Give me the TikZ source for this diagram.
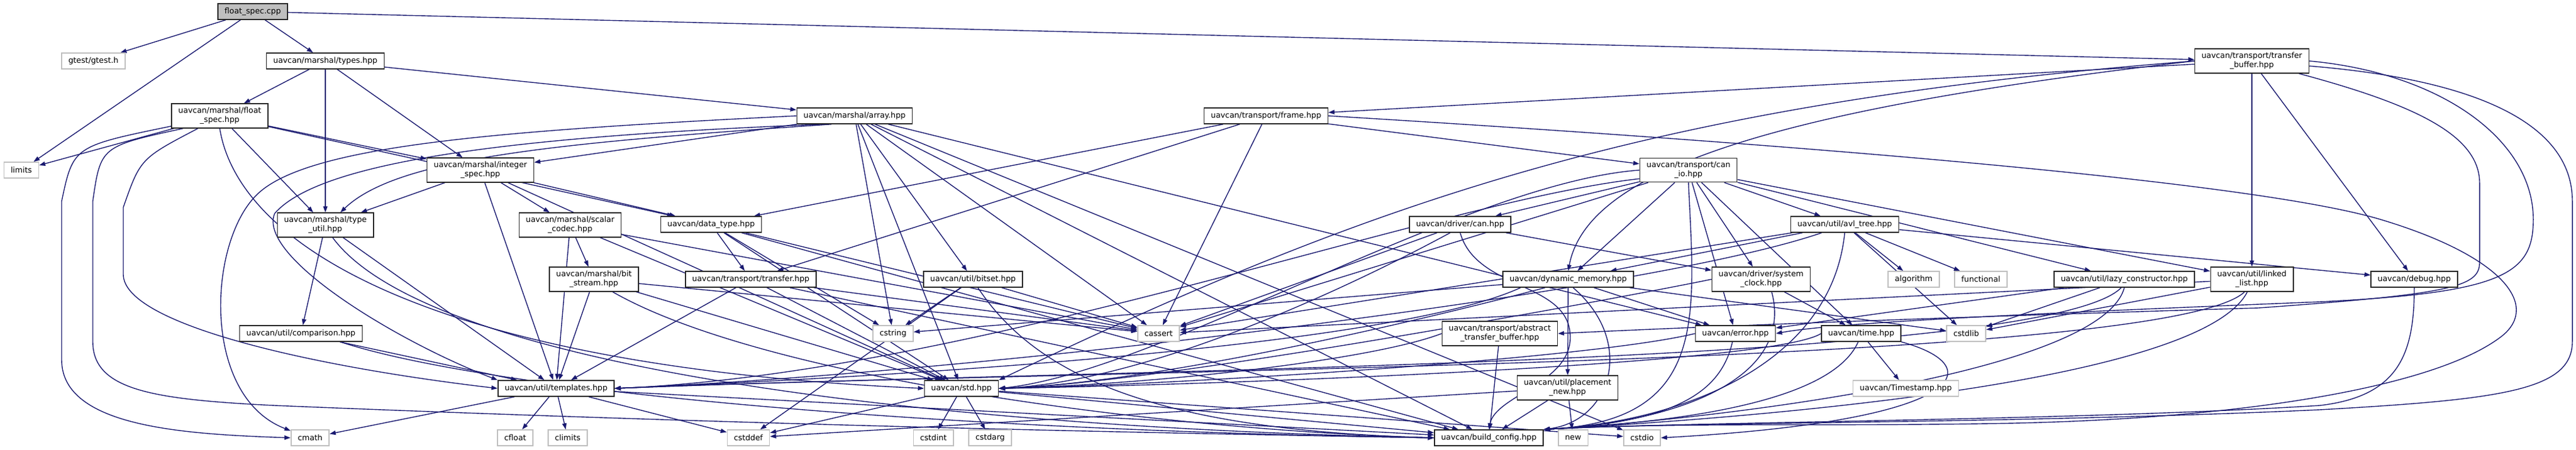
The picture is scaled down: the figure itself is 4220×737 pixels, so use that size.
\documentclass[tikz,border=0pt]{standalone}
\usepackage{fontspec}
\setmainfont{DejaVu Sans}
\usetikzlibrary{arrows.meta,backgrounds,calc}

\definecolor{edgeblue}{HTML}{191970}
\definecolor{sysgray}{HTML}{BFBFBF}

\tikzset{
  hdr/.style={draw=black!85, line width=1.5pt, fill=white, inner xsep=11pt,
    inner ysep=6pt, minimum height=26pt, align=center,
    font=\fontsize{12.8}{15}\selectfont},
  sysh/.style={hdr, draw=sysgray},
  rootf/.style={hdr, fill=sysgray},
  dep/.style={edgeblue, line width=1.4pt, -{Triangle[length=10pt,width=7pt]}},
}

\begin{document}
\begin{tikzpicture}[x=1pt,y=-1pt]
\useasboundingbox (0,0) rectangle (4220,737);

% headers, rank by rank
\node[rootf] (cpp) at (414,19) {float\_spec.cpp};
\node[sysh] (gtest) at (153,100) {gtest/gtest.h};
\node[hdr] (types) at (533,100) {uavcan/marshal/types.hpp};
\node[hdr] (tbuf) at (3689,100) {uavcan/transport/transfer\\\_buffer.hpp};

\node[hdr] (fspec) at (360,190) {uavcan/marshal/float\\\_spec.hpp};
\node[hdr] (array) at (1400,190) {uavcan/marshal/array.hpp};
\node[hdr] (frame) at (2074,190) {uavcan/transport/frame.hpp};

\node[sysh] (limits) at (35,279) {limits};
\node[hdr] (ispec) at (787,279) {uavcan/marshal/integer\\\_spec.hpp};
\node[hdr] (canio) at (2766,279) {uavcan/transport/can\\\_io.hpp};

\node[hdr] (tutil) at (533,369) {uavcan/marshal/type\\\_util.hpp};
\node[hdr] (scodec) at (934,369) {uavcan/marshal/scalar\\\_codec.hpp};
\node[hdr] (dtype) at (1165,368) {uavcan/data\_type.hpp};
\node[hdr] (drvcan) at (2392,368) {uavcan/driver/can.hpp};
\node[hdr] (avl) at (3022,368) {uavcan/util/avl\_tree.hpp};

\node[hdr] (bstream) at (973,458) {uavcan/marshal/bit\\\_stream.hpp};
\node[hdr] (transfer) at (1230,458) {uavcan/transport/transfer.hpp};
\node[hdr] (bitset) at (1594,458) {uavcan/util/bitset.hpp};
\node[hdr] (dynmem) at (2569,458) {uavcan/dynamic\_memory.hpp};
\node[hdr] (sysclk) at (2885,458) {uavcan/driver/system\\\_clock.hpp};
\node[sysh] (algorithm) at (3135,458) {algorithm};
\node[sysh] (functional) at (3245,458) {functional};
\node[hdr] (lazy) at (3480,458) {uavcan/util/lazy\_constructor.hpp};
\node[hdr] (llist) at (3689,458) {uavcan/util/linked\\\_list.hpp};
\node[hdr] (debug) at (3955,458) {uavcan/debug.hpp};

\node[hdr] (comparison) at (493,547) {uavcan/util/comparison.hpp};
\node[sysh] (cstring) at (1463,547) {cstring};
\node[sysh] (cassert) at (1898,547) {cassert};
\node[hdr] (atbuf) at (2457,547) {uavcan/transport/abstract\\\_transfer\_buffer.hpp};
\node[hdr] (error) at (2843,547) {uavcan/error.hpp};
\node[hdr] (time) at (3049,547) {uavcan/time.hpp};
\node[sysh] (cstdlib) at (3221,547) {cstdlib};

\node[hdr] (templates) at (911,637) {uavcan/util/templates.hpp};
\node[hdr] (std) at (1575,637) {uavcan/std.hpp};
\node[hdr] (pnew) at (2568,636) {uavcan/util/placement\\\_new.hpp};
\node[sysh] (timestamp) at (3122,637) {uavcan/Timestamp.hpp};

\node[sysh] (cmath) at (508,718) {cmath};
\node[sysh] (cfloat) at (844,718) {cfloat};
\node[sysh] (climits) at (930,718) {climits};
\node[sysh] (cstddef) at (1226,718) {cstddef};
\node[sysh] (cstdint) at (1529,718) {cstdint};
\node[sysh] (cstdarg) at (1622,718) {cstdarg};
\node[hdr] (bconfig) at (2439,718) {uavcan/build\_config.hpp};
\node[sysh] (new) at (2577,718) {new};
\node[sysh] (cstdio) at (2690,718) {cstdio};

\begin{scope}[on background layer]
\fill[white] (0,0) rectangle (4220,737);

% float_spec.cpp and types.hpp
\foreach \dst in {gtest,limits,types,tbuf} \draw[dep] (cpp) -- (\dst);
\foreach \dst in {fspec,tutil,ispec,array} \draw[dep] (types) -- (\dst);

% float_spec.hpp
\foreach \dst in {limits,tutil,ispec,dtype} \draw[dep] (fspec) -- (\dst);
\draw[dep] (fspec.192) .. controls (120,240) .. (101,330) -- (101,590)
  .. controls (101,700) and (300,712) .. (cmath.west);
\draw[dep] (fspec.210) .. controls (230,260) .. (202,340) -- (202,450)
  .. controls (202,530) and (500,600) .. (templates.west);
\draw[dep] (fspec.199) .. controls (165,240) .. (152,330) -- (152,560)
  .. controls (152,640) and (250,655) .. (450,665)
  .. controls (1300,700) and (2000,712) .. (bconfig.west);
\draw[dep] (fspec.south) .. controls (390,400) and (700,600) .. (std.west);

% marshal
\draw[dep] (tutil) -- (comparison);
\draw[dep] (tutil) -- (templates);
\draw[dep] (tutil.300) .. controls (700,600) and (1500,700) .. (bconfig.west);
\draw[dep] (comparison) -- (templates);
\draw[dep] (comparison.348) .. controls (800,640) and (1500,705) .. (bconfig.west);
\foreach \dst in {tutil,scodec,dtype,templates,std} \draw[dep] (ispec) -- (\dst);
\foreach \dst in {bstream,templates,std,cassert} \draw[dep] (scodec) -- (\dst);
\foreach \dst in {templates,cassert,std} \draw[dep] (bstream) -- (\dst);
\draw[dep] (bstream.326) .. controls (1250,620) and (1900,705) .. (bconfig.west);
\foreach \dst in {transfer,cstring,cassert,std,bconfig} \draw[dep] (dtype) -- (\dst);
\foreach \dst in {templates,cassert,std,bconfig} \draw[dep] (transfer) -- (\dst);

% array.hpp
\foreach \dst in {cstring,bitset,cassert,error,ispec,std,bconfig,cstdio}
  \draw[dep] (array) -- (\dst);
\draw[dep] (array.west) .. controls (800,215) and (500,240) .. (420,320)
  .. controls (340,400) and (330,650) .. (cmath.160);
\draw[dep] (array.195) .. controls (800,225) and (520,270) .. (450,350)
  .. controls (420,420) and (650,560) .. (templates.north west);
\draw[dep] (array.200) .. controls (900,235) and (650,260) .. (tutil.40);
\foreach \dst in {cstring,cstddef,cassert} \draw[dep] (bitset) -- (\dst);
\draw[dep] (bitset.300) .. controls (1700,620) and (1900,705) .. (bconfig.west);

% transport
\foreach \dst in {dtype,transfer,cassert,canio} \draw[dep] (frame) -- (\dst);
\draw[dep] (frame.east) .. controls (3000,240) and (3700,300) .. (3900,360)
  .. controls (4100,420) and (4160,500) .. (4100,550)
  .. controls (4000,630) and (3700,685) .. (3300,694)
  .. controls (3000,700) and (2750,692) .. (bconfig.north east);
\foreach \dst in {frame,llist,debug} \draw[dep] (tbuf) -- (\dst);
\draw[dep] (tbuf.west) .. controls (2900,180) and (2600,280) .. (dynmem.north);
\draw[dep] (tbuf.west) .. controls (2700,170) and (2250,330) .. (std.north east);
\draw[dep] (tbuf.345) .. controls (3950,170) and (4062,220) .. (4062,300) -- (4062,430)
  .. controls (4062,470) and (4020,482) .. (3700,505)
  .. controls (3200,520) and (2800,535) .. (atbuf.east);
\draw[dep] (tbuf.east) .. controls (4000,120) and (4150,230) .. (4150,360)
  .. controls (4150,450) and (4100,480) .. (3800,495)
  .. controls (3300,515) and (3000,530) .. (error.east);
\draw[dep] (tbuf.355) .. controls (4050,130) and (4214,200) .. (4214,330) -- (4214,560)
  .. controls (4214,640) and (4100,655) .. (3800,672)
  .. controls (3300,695) and (2750,692) .. (bconfig.north east);
\foreach \dst in {drvcan,sysclk,avl,dynmem,error,time,lazy,llist,cassert}
  \draw[dep] (canio) -- (\dst);
\draw[dep] (canio.west) .. controls (2400,300) and (1900,610) .. (std.east);
\draw[dep] (canio.190) .. controls (2350,330) and (1600,612) .. (templates.east);
\draw[dep] (canio.south) .. controls (2776,520) and (2800,690) .. (bconfig.north east);
\draw[dep] (atbuf.west) .. controls (2250,590) and (1900,630) .. (std.east);
\draw[dep] (atbuf) -- (bconfig);

% driver, time, error
\foreach \dst in {cassert,sysclk} \draw[dep] (drvcan) -- (\dst);
\draw[dep] (drvcan.220) .. controls (2250,450) and (1900,625) .. (std.east);
\draw[dep] (drvcan.south) .. controls (2420,480) and (2580,460) .. (2572,560)
  .. controls (2565,630) and (2450,650) .. (bconfig.north);
\draw[dep] (sysclk) -- (time);
\draw[dep] (sysclk.west) .. controls (2700,480) and (1900,630) .. (std.east);
\draw[dep] (sysclk.310) .. controls (2940,620) and (2750,692) .. (bconfig.north east);
\draw[dep] (time) -- (timestamp);
\draw[dep] (time.west) .. controls (2900,600) and (1950,632) .. (std.east);
\draw[dep] (time.250) .. controls (3000,660) and (2750,692) .. (bconfig.north east);
\draw[dep] (time.south east) .. controls (3260,600) and (3230,690) .. (cstdio.east);
\draw[dep] (error.west) .. controls (2600,590) and (1900,632) .. (std.east);
\draw[dep] (error.250) .. controls (2820,640) and (2750,692) .. (bconfig.north east);

% util
\foreach \dst in {cstdlib,cassert,algorithm,functional,debug,dynmem}
  \draw[dep] (avl) -- (\dst);
\draw[dep] (avl.200) .. controls (2700,480) and (1600,612) .. (templates.east);
\draw[dep] (avl.south) .. controls (3000,600) and (2750,692) .. (bconfig.north east);
\foreach \dst in {cstring,error,pnew,cstdlib} \draw[dep] (dynmem) -- (\dst);
\draw[dep] (dynmem.200) .. controls (2350,520) and (1900,628) .. (std.east);
\draw[dep] (dynmem.190) .. controls (2300,560) and (1600,612) .. (templates.east);
\draw[dep] (dynmem.300) .. controls (2680,560) and (2640,690) .. (bconfig.north east);
\foreach \dst in {cstddef,new,bconfig} \draw[dep] (pnew) -- (\dst);
\foreach \dst in {error,cstdlib} \draw[dep] (lazy) -- (\dst);
\draw[dep] (lazy.250) .. controls (3350,600) and (1800,605) .. (templates.east);
\draw[dep] (lazy.south) .. controls (3440,620) and (2750,692) .. (bconfig.north east);
\foreach \dst in {cstdlib,cassert} \draw[dep] (llist) -- (\dst);
\draw[dep] (llist.240) .. controls (3550,600) and (1800,605) .. (templates.east);
\draw[dep] (llist.250) .. controls (3600,640) and (2750,692) .. (bconfig.north east);
\draw[dep] (debug.south) .. controls (3955,580) and (3930,650) .. (3800,665)
  .. controls (3400,690) and (2750,692) .. (bconfig.north east);

% std.hpp and templates.hpp
\foreach \dst in {cstdint,cstdarg,cstddef,cstdio,bconfig} \draw[dep] (std) -- (\dst);
\foreach \dst in {cfloat,climits,cstddef,cmath,bconfig} \draw[dep] (templates) -- (\dst);
\end{scope}

\end{tikzpicture}
\end{document}
